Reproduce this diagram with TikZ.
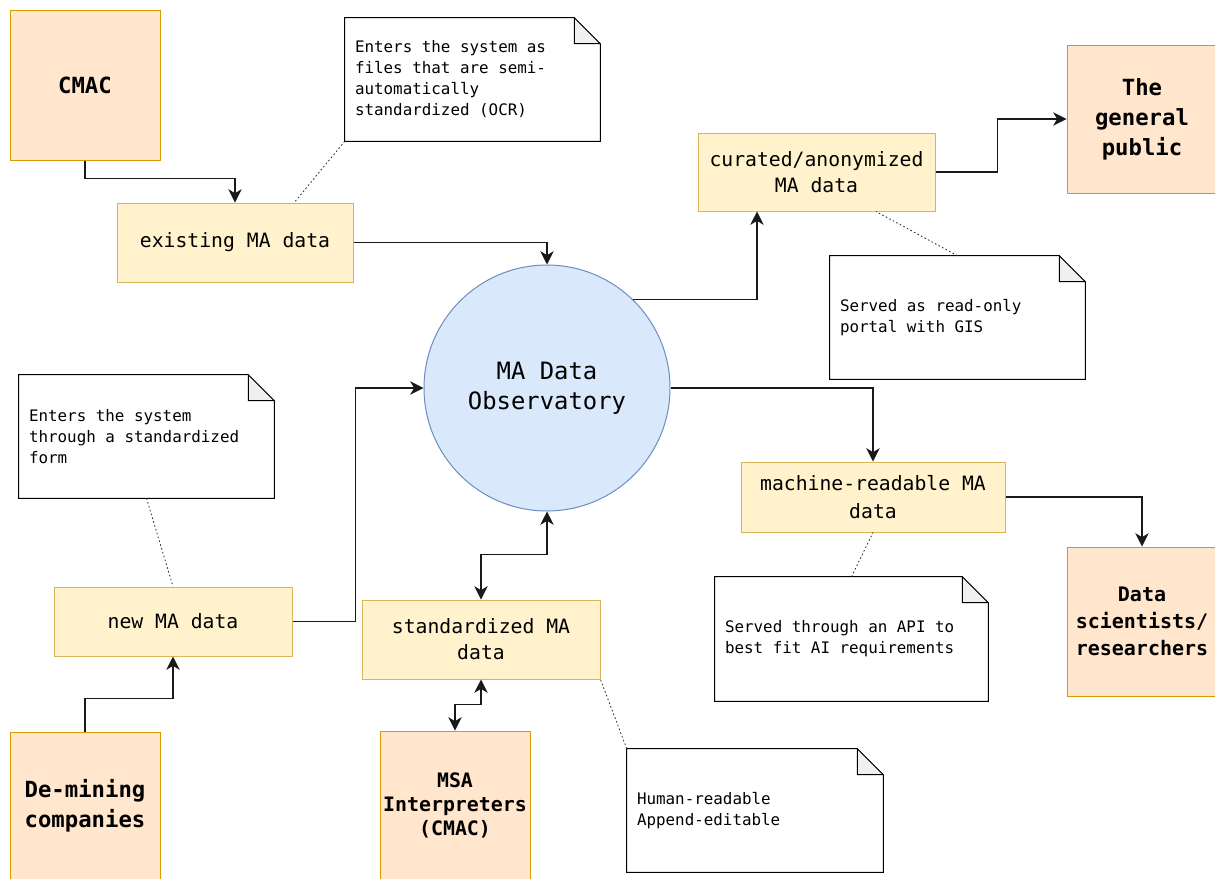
\documentclass[tikz,border=0pt]{standalone}
\usepackage{fontspec}
\setmainfont{DejaVu Sans Mono}
\usetikzlibrary{arrows.meta,calc}
\definecolor{orfill}{HTML}{FFE6CC}
\definecolor{orline}{HTML}{D79B00}
\definecolor{yfill}{HTML}{FFF2CC}
\definecolor{yline}{HTML}{D6B656}
\definecolor{bfill}{HTML}{DAE8FC}
\definecolor{bline}{HTML}{6C8EBF}
\definecolor{foldgray}{HTML}{F0F0F0}
\begin{document}
\begin{tikzpicture}[x=0.75pt,y=-0.75pt,
  base/.style={inner sep=0pt, align=flush center, line width=0.75pt},
  actor/.style={base, fill=orfill, draw=orline, minimum width=112.5pt, minimum height=111pt,
    font=\bfseries\fontsize{16.7}{22.5}\selectfont},
  actorsm/.style={actor, font=\bfseries\fontsize{15}{20.5}\selectfont},
  databox/.style={base, fill=yfill, draw=yline, font=\fontsize{14.8}{20}\selectfont},
  hub/.style={base, circle, fill=bfill, draw=bline, minimum size=184.5pt,
    font=\fontsize{17.9}{22.5}\selectfont},
  note/.style={inner xsep=7.5pt, inner ysep=0pt, align=flush left, minimum height=92.25pt,
    font=\fontsize{11.9}{15.75}\selectfont},
  noteline/.style={draw=black, line width=0.75pt, line join=miter},
  tip/.tip={Stealth[length=10pt,width=10pt,inset=3pt]},
  arr/.style={draw=black!90, line width=0.8pt, -tip},
  biarr/.style={draw=black!90, line width=0.8pt, tip-tip},
  dotline/.style={draw=black!85, line width=0.6pt, dash pattern=on 1.2pt off 1.8pt}
]
\useasboundingbox (0,0) rectangle (1215,879);

% actors
\node[actor, minimum height=112.5pt] (cmac) at (85,85) {CMAC};
\node[actor] (pub) at (1142,119) {The\\general\\public};
\node[actorsm, minimum height=111.75pt] (sci) at (1142,621.5) {Data\\scientists/\\researchers};
\node[actor] (demin) at (85,806) {De-mining\\companies};
\node[actorsm, font=\bfseries\fontsize{14.9}{18}\selectfont] (msa) at (455,805) {MSA\\Interpreters\\(CMAC)};

% data boxes
\node[databox, minimum width=177pt, minimum height=59.25pt] (exist) at (235,242.5) {existing MA data};
\node[databox, minimum width=177.75pt, minimum height=58.5pt] (cur) at (816.5,172) {curated/anonymized\\MA data};
\node[databox, minimum width=198pt, minimum height=52.5pt, font=\fontsize{14.8}{21.5}\selectfont] (mach) at (873,497) {machine-readable MA\\data};
\node[databox, minimum width=178.5pt, minimum height=51.75pt] (newma) at (173,621.5) {new MA data};
\node[databox, minimum width=178.5pt, minimum height=59.25pt, font=\fontsize{14.8}{19.5}\selectfont] (std) at (481,639.5) {standardized MA\\data};

% hub
\node[hub] (obs) at (547,388) {MA Data\\Observatory};

% notes
\node[note, text width=176.25pt] (n1) at (472.5,79.5) {Enters the system as\\files that are semi-\\automatically\\standardized (OCR)};
\node[note, text width=176.25pt] (n2) at (957.5,317.5) {Served as read-only\\portal with GIS};
\node[note, text width=176.25pt] (n3) at (146.5,436.5) {Enters the system\\through a standardized\\form};
\node[note, text width=189.75pt, minimum height=93pt] (n4) at (851.5,639) {Served through an API to\\best fit AI requirements};
\node[note, text width=177pt] (n5) at (755,810.5) {Human-readable\\Append-editable};

\foreach \n in {n1,n2,n3,n4,n5}{
  \draw[noteline] (\n.south west) -- (\n.north west) -- ([xshift=-19.5pt]\n.north east)
    -- ([yshift=-19.5pt]\n.north east) -- (\n.south east) -- cycle;
  \draw[noteline, fill=foldgray] ([xshift=-19.5pt]\n.north east)
    -- ([xshift=-19.5pt,yshift=-19.5pt]\n.north east) -- ([yshift=-19.5pt]\n.north east) -- cycle;
}

% connectors
\draw[arr] (cmac.south) -- ++(0,18) -| (exist.north);
\draw[arr] (exist.east) -| (obs.north);
\draw[arr] (obs.46) -| ($(cur.south west)!0.25!(cur.south east)$);
\draw[arr] (cur.east) -- ++(62,0) |- (pub.west);
\draw[arr] (obs.east) -| (mach.north);
\draw[arr] (mach.east) -| (sci.north);
\draw[arr] (newma.east) -- ++(63,0) |- (obs.west);
\draw[arr] (demin.north) -- ++(0,-33) -| (newma.south);
\draw[biarr] (std.north) -- ++(0,-45) -| (obs.south);
\draw[biarr] (msa.north) -- ++(0,-26) -| (std.south);

% note links
\draw[dotline] (n1.south west) -- ($(exist.north west)!0.75!(exist.north east)$);
\draw[dotline] (n2.north) -- ($(cur.south west)!0.75!(cur.south east)$);
\draw[dotline] (n3.south) -- (newma.north);
\draw[dotline] (n4.north) -- (mach.south);
\draw[dotline] (n5.north west) -- (std.south east);
\end{tikzpicture}
\end{document}
